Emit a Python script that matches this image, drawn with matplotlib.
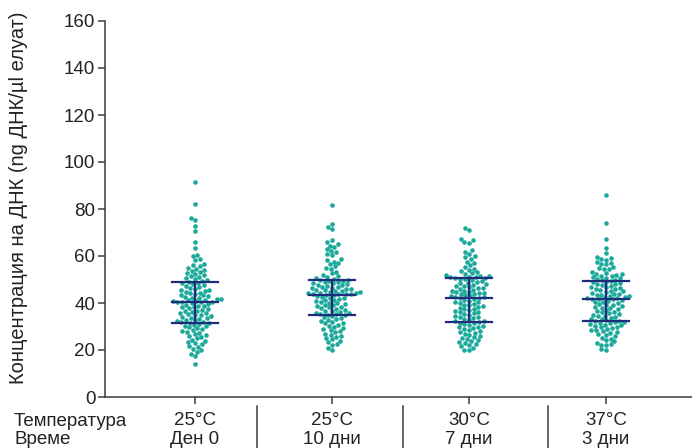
import numpy as np
import pandas as pd
import matplotlib
matplotlib.use("Agg")
import matplotlib.pyplot as plt
import seaborn as sns

# groups: temperature / storage time
temps = ["25°C", "25°C", "30°C", "37°C"]
times = ["Ден 0", "10 дни", "7 дни", "3 дни"]

# DNA concentration values (ng/µl)
day0_25 = [91.6, 82.0, 76.3, 75.3, 72.9, 70.8, 66.1, 63.3, 60.3, 59.9, 58.6, 58.2,
           56.8, 56.0, 55.7, 55.1, 54.6, 54.2, 53.7, 53.3, 52.8, 52.4, 51.9, 51.5,
           51.2, 50.6, 50.3, 49.8, 49.4, 49.1,
           48.7, 48.3, 47.9, 47.6, 47.1, 46.8, 46.3, 46.1, 45.6, 45.4, 45.1, 44.7,
           44.4, 44.1, 43.9, 43.5, 43.2, 42.8, 42.6, 42.3, 42.1, 41.8, 41.6, 41.3,
           41.1, 40.9, 40.8, 40.6, 40.5, 40.4,
           40.3, 39.9, 39.6, 39.3, 38.9, 38.7, 38.3, 38.1, 37.7, 37.4, 37.2, 36.8,
           36.6, 36.2, 35.9, 35.7, 35.3, 35.1, 34.7, 34.4, 34.2, 33.8, 33.5, 33.3,
           32.9, 32.7, 32.3, 32.1, 31.8, 31.7,
           31.4, 31.1, 30.7, 30.4, 30.1, 29.6, 29.3, 28.8, 28.5, 28.0, 27.6, 27.2,
           26.7, 26.3, 25.8, 25.4, 24.9, 24.3, 23.9, 23.5, 22.8, 22.4, 21.7, 21.2,
           20.5, 19.8, 19.2, 18.1, 17.4, 14.2]
day10_25 = [81.7, 73.5, 72.3, 71.5, 66.9, 65.8, 65.2, 64.4, 63.7, 62.9, 62.3, 61.6,
            60.9, 60.3, 58.7, 58.1, 57.6, 57.0, 56.4, 55.6, 55.1, 54.5, 53.3, 52.6,
            51.9, 51.4, 51.0, 50.6, 50.3, 50.0,
            49.7, 49.4, 49.3, 48.9, 48.8, 48.4, 48.3, 47.9, 47.8, 47.5, 47.2, 47.0,
            46.7, 46.5, 46.2, 46.0, 45.8, 45.5, 45.4, 45.1, 45.0, 44.8, 44.5, 44.4,
            44.2, 44.1, 43.9, 43.9, 43.8, 43.7,
            43.5, 43.2, 42.8, 42.6, 42.2, 42.0, 41.7, 41.3, 41.1, 40.8, 40.4, 40.2,
            39.9, 39.5, 39.3, 39.0, 38.6, 38.4, 38.1, 37.7, 37.5, 37.2, 36.8, 36.6,
            36.3, 35.9, 35.7, 35.4, 35.2, 35.1,
            34.8, 34.4, 34.0, 33.7, 33.2, 32.9, 32.4, 32.1, 31.6, 31.3, 30.8, 30.3,
            29.9, 29.4, 28.8, 28.5, 28.1, 27.6, 27.0, 26.5, 26.1, 25.7, 25.1, 24.6,
            23.9, 23.3, 22.5, 22.1, 20.9, 20.0]
day7_30 = [71.9, 70.9, 67.4, 66.7, 66.0, 65.6, 62.5, 61.7, 60.9, 60.1, 59.4, 58.9,
           57.6, 56.9, 56.0, 55.3, 54.6, 54.1, 53.5, 53.0, 52.6, 52.2, 51.9, 51.6,
           51.4, 51.2, 51.0, 50.9, 50.8, 50.7,
           50.4, 50.1, 49.7, 49.4, 49.0, 48.7, 48.4, 48.0, 47.7, 47.4, 47.1, 46.8,
           46.5, 46.2, 45.9, 45.6, 45.3, 45.0, 44.8, 44.6, 44.4, 44.2, 43.9, 43.7,
           43.4, 43.1, 42.9, 42.6, 42.4, 42.2,
           42.0, 41.6, 41.3, 41.0, 40.6, 40.3, 40.0, 39.6, 39.3, 39.0, 38.6, 38.3,
           38.0, 37.6, 37.3, 37.0, 36.6, 36.3, 36.0, 35.6, 35.3, 35.0, 34.6, 34.2,
           33.9, 33.5, 33.2, 32.8, 32.5, 32.2,
           31.9, 31.6, 31.3, 31.0, 30.7, 30.3, 30.0, 29.6, 29.3, 28.9, 28.5, 28.1,
           27.7, 27.3, 26.9, 26.4, 26.0, 25.5, 25.2, 24.8, 24.3, 23.9, 23.4, 22.9,
           22.5, 22.1, 21.6, 21.0, 20.2, 19.9]
day3_37 = [85.8, 74.2, 67.4, 63.4, 61.3, 59.4, 59.1, 58.8, 58.5, 57.3, 57.0, 56.7,
           56.4, 55.2, 54.9, 54.6, 54.3, 53.1, 52.8, 52.5, 52.2, 51.9, 51.6, 51.3,
           51.1, 50.8, 50.5, 50.2, 49.9, 49.7,
           49.4, 49.1, 48.8, 48.5, 48.2, 47.9, 47.6, 47.3, 47.0, 46.7, 46.4, 46.1,
           45.8, 45.5, 45.2, 44.9, 44.6, 44.3, 44.0, 43.8, 43.6, 43.4, 43.1, 42.9,
           42.7, 42.5, 42.3, 42.1, 41.9, 41.8,
           41.5, 41.2, 40.9, 40.6, 40.3, 40.0, 39.6, 39.3, 39.0, 38.6, 38.3, 38.0,
           37.7, 37.3, 37.0, 36.7, 36.3, 36.0, 35.6, 35.3, 35.0, 34.6, 34.3, 34.0,
           33.6, 33.3, 33.0, 32.7, 32.5, 32.3,
           32.0, 31.8, 31.5, 31.3, 31.0, 30.8, 30.5, 30.2, 29.9, 29.6, 29.3, 29.0,
           28.6, 28.3, 27.9, 27.5, 27.1, 26.7, 26.3, 25.8, 25.3, 24.8, 24.3, 23.7,
           23.1, 22.5, 22.3, 22.1, 20.3, 20.0]

groups = [day0_25, day10_25, day7_30, day3_37]

dot_color = "#1aa99a"
bar_color = "#1f2c7c"
txt_color = "#222222"

plt.rcParams['font.family'] = ['Liberation Sans', 'DejaVu Sans']

rows = []
for i, vals in enumerate(groups):
    for v in vals:
        rows.append((i, v))
df = pd.DataFrame(rows, columns=["group", "conc"])

fig = plt.figure(figsize=(6.92, 4.48), dpi=100)
ax = fig.add_axes([105/692, 51/448, 587/692, 376/448])

sns.swarmplot(data=df, x="group", y="conc", native_scale=True, color=dot_color,
              size=3.3, linewidth=0, ax=ax)

# median and interquartile range
half = 0.165
for i, vals in enumerate(groups):
    q1, med, q3 = np.percentile(vals, [25, 50, 75])
    for q in (q1, med, q3):
        ax.plot([i - half, i + half], [q, q], color=bar_color, lw=1.6, zorder=5)
    ax.plot([i, i], [q1, q3], color=bar_color, lw=1.6, zorder=5)

ax.set_xlim(-0.657, 3.628)
ax.set_ylim(0, 160)
ax.set_yticks(range(0, 161, 20))
ax.set_xticks(range(4))
ax.set_xticklabels([])
ax.set_xlabel("")
ax.spines['top'].set_visible(False)
ax.spines['right'].set_visible(False)
for s in ('left', 'bottom'):
    ax.spines[s].set_color("#3a3a3a")
    ax.spines[s].set_linewidth(1.1)
ax.tick_params(axis='both', direction='out', length=5, width=1.1, color="#3a3a3a",
               labelsize=13.5, labelcolor=txt_color, pad=2)
ax.set_ylabel("Концентрация на ДНК (ng ДНК/µl елуат)", fontsize=14.5, color=txt_color)
ax.yaxis.set_label_coords(-0.131, 0.53)

# two-row category labels under the axis
trans = ax.get_xaxis_transform()
for i in range(4):
    ax.text(i, -0.063, temps[i], transform=trans, ha='center', va='center',
            fontsize=13.5, color=txt_color)
    ax.text(i, -0.112, times[i], transform=trans, ha='center', va='center',
            fontsize=13.5, color=txt_color)
for xd in (0.45, 1.52, 2.58):
    ax.plot([xd, xd], [-0.024, -0.14], transform=trans, color="#3a3a3a",
            lw=1.1, clip_on=False)
fig.text(14/692, 1 - 421/448, "Температура", ha='left', va='center', fontsize=13.5,
         color=txt_color)
fig.text(14/692, 1 - 439/448, "Време", ha='left', va='center', fontsize=13.5,
         color=txt_color)

fig.savefig("out.png", dpi=100)
